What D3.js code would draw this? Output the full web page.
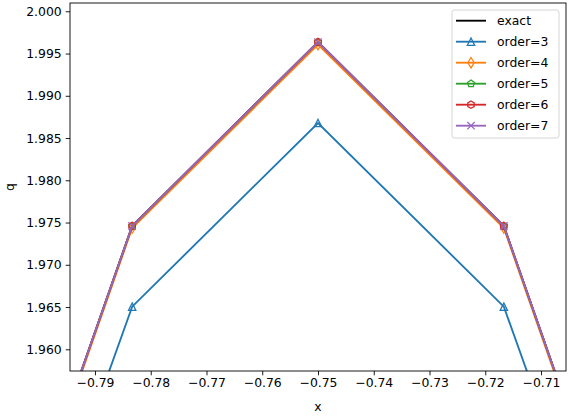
<!DOCTYPE html>
<html><head><meta charset="utf-8">
<script src="https://cdn.jsdelivr.net/npm/d3@7"></script>
<style>body{margin:0;background:#fff}svg{display:block}text{font-family:"DejaVu Sans",sans-serif}</style>
</head><body>
<script>
const xs = [-0.81667, -0.78333, -0.75, -0.71667, -0.68333];
const exactQ = [1.9118, 1.97459, 1.99636, 1.97459, 1.9118];
const order3 = [1.9035, 1.96504, 1.98678, 1.96504, 1.9035];
const order4 = [1.9114, 1.97435, 1.99605, 1.97435, 1.9114];
const order5 = [1.9118, 1.97457, 1.99634, 1.97457, 1.9118];
const order6 = [1.9118, 1.97459, 1.99636, 1.97459, 1.9118];
const order7 = [1.9118, 1.97459, 1.99636, 1.97459, 1.9118];
const seriesNames = ["exact","order=3","order=4","order=5","order=6","order=7"];
const xTicks = [-0.79,-0.78,-0.77,-0.76,-0.75,-0.74,-0.73,-0.72,-0.71];
const yTicks = [1.960,1.965,1.970,1.975,1.980,1.985,1.990,1.995,2.000];

const W=571,H=416, L=70, R=566, T=3, B=371;
const x = d3.scaleLinear().domain([-0.79448,-0.70552]).range([L,R]);
const y = d3.scaleLinear().domain([1.95743,2.00098]).range([B,T]);
const svg = d3.select("body").append("svg").attr("width",W).attr("height",H);
svg.append("defs").append("clipPath").attr("id","clip").append("rect")
  .attr("x",L).attr("y",T).attr("width",R-L).attr("height",B-T);

const series = [
  {name:seriesNames[0], vals:exactQ, color:"#000000", marker:null},
  {name:seriesNames[1], vals:order3, color:"#1f77b4", marker:"tri"},
  {name:seriesNames[2], vals:order4, color:"#ff7f0e", marker:"dia"},
  {name:seriesNames[3], vals:order5, color:"#2ca02c", marker:"pent"},
  {name:seriesNames[4], vals:order6, color:"#d62728", marker:"hex"},
  {name:seriesNames[5], vals:order7, color:"#9467bd", marker:"x"}
];
const ms = 7.4/2;
function poly(n, r, rot){
  const pts=[];
  for(let i=0;i<n;i++){const a=rot+i*2*Math.PI/n; pts.push([r*Math.sin(a), -r*Math.cos(a)]);}
  return "M"+pts.map(p=>p.join(",")).join("L")+"Z";
}
function markerPath(m){
  if(m==="tri") return `M0,${-ms}L${-ms},${ms}L${ms},${ms}Z`;
  if(m==="dia"){const v=ms*1.414, h=v*0.6; return `M0,${-v}L${h},0L0,${v}L${-h},0Z`;}
  if(m==="pent") return poly(5, ms, 0);
  if(m==="hex") return poly(6, ms, 0);
  if(m==="x") return `M${-ms},${-ms}L${ms},${ms}M${-ms},${ms}L${ms},${-ms}`;
  return "";
}
const line = d3.line().x((d,i)=>x(xs[i])).y(d=>y(d));
const g = svg.append("g").attr("clip-path","url(#clip)");
series.forEach(s=>{
  g.append("path").attr("d",line(s.vals)).attr("fill","none").attr("stroke",s.color).attr("stroke-width",1.86);
  if(s.marker){
    g.selectAll(null).data(s.vals).enter().append("path")
      .attr("transform",(d,i)=>`translate(${x(xs[i])},${y(d)})`)
      .attr("d",markerPath(s.marker)).attr("fill","none").attr("stroke",s.color).attr("stroke-width",1.24);
  }
});

// axes
const fmtX = d=>d3.format(".2f")(d).replace("-","\u2212");
const xAxis = svg.append("g").attr("transform",`translate(0,${B})`)
  .call(d3.axisBottom(x).tickValues(xTicks).tickSize(4.3).tickPadding(3).tickFormat(fmtX));
const yAxis = svg.append("g").attr("transform",`translate(${L},0)`)
  .call(d3.axisLeft(y).tickValues(yTicks).tickSize(4.3).tickPadding(4).tickFormat(d3.format(".3f")));
[xAxis,yAxis].forEach(a=>{
  a.select(".domain").remove();
  a.selectAll(".tick line").attr("stroke","#000").attr("stroke-width",0.9);
  a.selectAll(".tick text").attr("font-size",12.4).attr("fill","#000").attr("font-family","DejaVu Sans");
});
svg.append("rect").attr("x",L).attr("y",T).attr("width",R-L).attr("height",B-T)
  .attr("fill","none").attr("stroke","#000").attr("stroke-width",0.9);
svg.append("text").attr("x",(L+R)/2).attr("y",411).attr("text-anchor","middle").attr("font-size",12.4).text("x");
svg.append("text").attr("transform",`translate(14,${(T+B)/2}) rotate(-90)`).attr("text-anchor","middle").attr("font-size",12.4).text("q");

// legend
const lg = svg.append("g");
lg.append("rect").attr("x",452).attr("y",10).attr("width",107).attr("height",128).attr("rx",2.5)
  .attr("fill","#fff").attr("fill-opacity",0.8).attr("stroke","#d0d0d0").attr("stroke-width",0.9);
series.forEach((s,i)=>{
  const yy = 20.7 + i*21;
  lg.append("line").attr("x1",456).attr("x2",486).attr("y1",yy).attr("y2",yy).attr("stroke",s.color).attr("stroke-width",1.86);
  if(s.marker) lg.append("path").attr("transform",`translate(471,${yy})`).attr("d",markerPath(s.marker))
     .attr("fill","none").attr("stroke",s.color).attr("stroke-width",1.24);
  lg.append("text").attr("x",497).attr("y",yy).attr("dy","0.35em").attr("font-size",12.4).text(s.name);
});
</script>
</body></html>
